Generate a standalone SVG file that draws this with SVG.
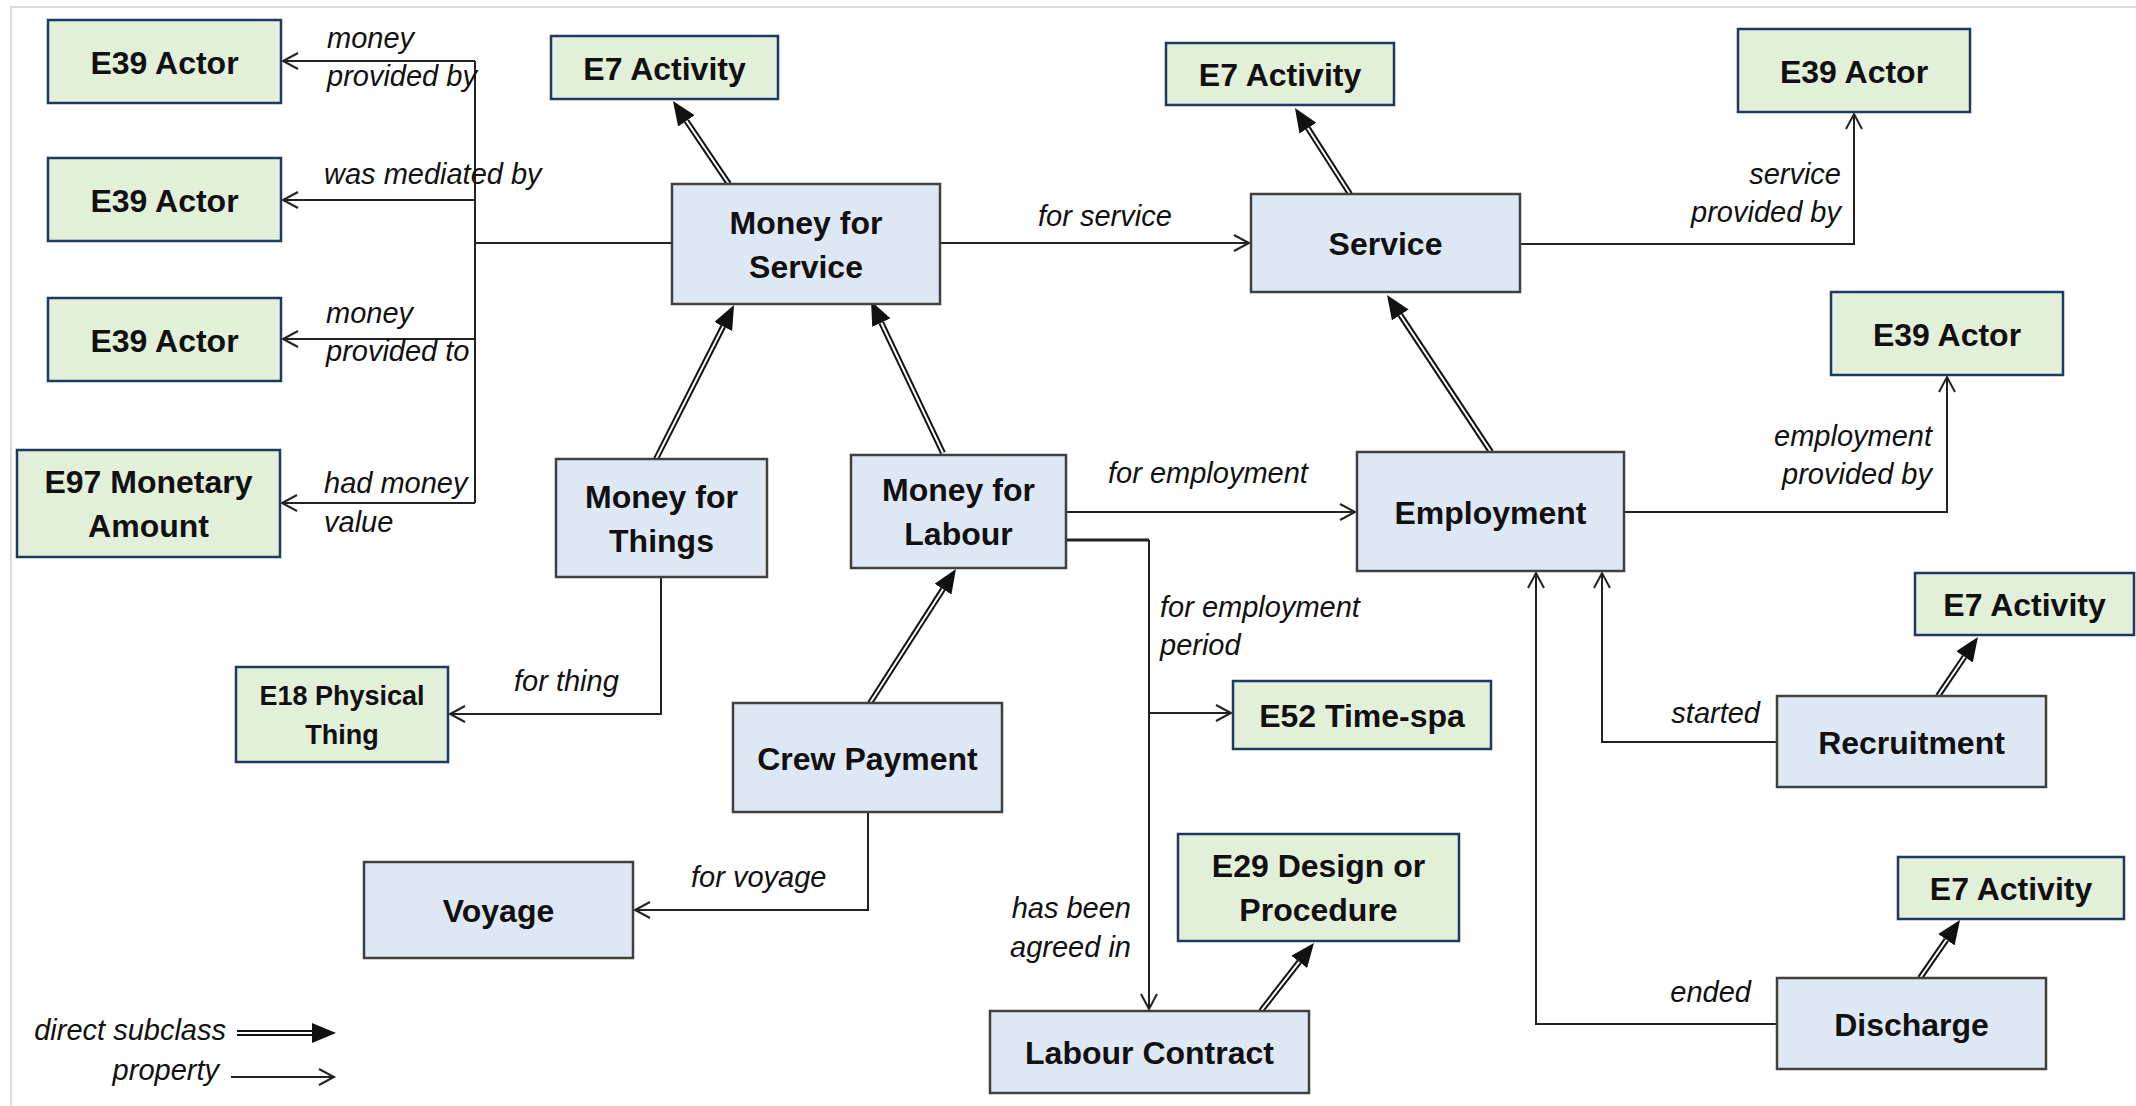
<svg xmlns="http://www.w3.org/2000/svg" width="2136" height="1106" viewBox="0 0 2136 1106">
<style>
.blue{fill:#dee8f5;stroke:#404040;stroke-width:2.5}
.green{fill:#e2efd9;stroke:#1f3864;stroke-width:2.5}
.nt{font-family:"Liberation Sans",Arial,sans-serif;font-weight:bold;font-size:32px;fill:#111;text-anchor:middle}
.nts{font-size:27px}
.lb{font-family:"Liberation Sans",Arial,sans-serif;font-style:italic;font-size:29px;fill:#111}
.r{text-anchor:end}
.prop{fill:none;stroke:#222;stroke-width:2}
.sub{fill:none;stroke:#111;stroke-width:6}
.subw{fill:none;stroke:#fff;stroke-width:2}
</style>
<defs>
<marker id="tri" viewBox="0 0 24 20" refX="0" refY="10" markerWidth="24" markerHeight="20" markerUnits="userSpaceOnUse" orient="auto">
<path d="M0,0 L24,10 L0,20 z" fill="#111"/>
</marker>
<marker id="open" viewBox="-2 -2 20 20" refX="15" refY="8" markerWidth="20" markerHeight="20" markerUnits="userSpaceOnUse" orient="auto" overflow="visible">
<path d="M0,0 L15,8 L0,16" fill="none" stroke="#222" stroke-width="2"/>
</marker>
</defs>
<rect width="2136" height="1106" fill="#fff"/>
<path d="M11,1106 V7 H2136" fill="none" stroke="#dcdcdc" stroke-width="2"/>

<g id="connectors">
<!-- property connectors -->
<path class="prop" d="M671,243 H475"/>
<path class="prop" d="M475,61 V503"/>
<path class="prop" d="M475,61 H283" marker-end="url(#open)"/>
<path class="prop" d="M475,200 H283" marker-end="url(#open)"/>
<path class="prop" d="M475,339 H283" marker-end="url(#open)"/>
<path class="prop" d="M475,503 H282" marker-end="url(#open)"/>
<path class="prop" d="M940,243 H1249" marker-end="url(#open)"/>
<path class="prop" d="M1520,244 H1854 V114" marker-end="url(#open)"/>
<path class="prop" d="M1624,512 H1947 V377" marker-end="url(#open)"/>
<path class="prop" d="M1066,512 H1355" marker-end="url(#open)"/>
<path class="prop" d="M1066,540 H1149" style="stroke-width:3"/>
<path class="prop" d="M1149,540 V1009" marker-end="url(#open)"/>
<path class="prop" d="M1149,713 H1231" marker-end="url(#open)"/>
<path class="prop" d="M661,577 V714 H450" marker-end="url(#open)"/>
<path class="prop" d="M868,812 V910 H635" marker-end="url(#open)"/>
<path class="prop" d="M1777,742 H1602 V573" marker-end="url(#open)"/>
<path class="prop" d="M1777,1024 H1536 V573" marker-end="url(#open)"/>
<!-- subclass connectors -->
<path class="sub" d="M729,184 L686.4,120.9" marker-end="url(#tri)"/><path class="subw" d="M729,184 L686.4,120.9"/>
<path class="sub" d="M1350,194 L1307.9,128.2" marker-end="url(#tri)"/><path class="subw" d="M1350,194 L1307.9,128.2"/>
<path class="sub" d="M656,459 L723.2,326.4" marker-end="url(#tri)"/><path class="subw" d="M656,459 L723.2,326.4"/>
<path class="sub" d="M943,453 L881.3,322.7" marker-end="url(#tri)"/><path class="subw" d="M943,453 L881.3,322.7"/>
<path class="sub" d="M1491,452 L1400.3,315" marker-end="url(#tri)"/><path class="subw" d="M1491,452 L1400.3,315"/>
<path class="sub" d="M870,703 L943,589.2" marker-end="url(#tri)"/><path class="subw" d="M870,703 L943,589.2"/>
<path class="sub" d="M1261,1011 L1299.2,961.9" marker-end="url(#tri)"/><path class="subw" d="M1261,1011 L1299.2,961.9"/>
<path class="sub" d="M1938,696 L1964.5,656.9" marker-end="url(#tri)"/><path class="subw" d="M1938,696 L1964.5,656.9"/>
<path class="sub" d="M1920,978 L1946.4,939.7" marker-end="url(#tri)"/><path class="subw" d="M1920,978 L1946.4,939.7"/>
<!-- labels -->
<text class="lb" x="327" y="48">money</text>
<text class="lb" x="327" y="86">provided by</text>
<text class="lb" x="324" y="184">was mediated by</text>
<text class="lb" x="326" y="323">money</text>
<text class="lb" x="326" y="361">provided to</text>
<text class="lb" x="324" y="493">had money</text>
<text class="lb" x="324" y="532">value</text>
<text class="lb" x="1038" y="226">for service</text>
<text class="lb r" x="1841" y="184">service</text>
<text class="lb r" x="1841" y="222">provided by</text>
<text class="lb r" x="1932" y="446">employment</text>
<text class="lb r" x="1932" y="484">provided by</text>
<text class="lb" x="1108" y="483">for employment</text>
<text class="lb" x="1160" y="617">for employment</text>
<text class="lb" x="1160" y="655">period</text>
<text class="lb r" x="1131" y="918">has been</text>
<text class="lb r" x="1131" y="957">agreed in</text>
<text class="lb" x="514" y="691">for thing</text>
<text class="lb" x="691" y="887">for voyage</text>
<text class="lb r" x="1760" y="723">started</text>
<text class="lb r" x="1751" y="1002">ended</text>
</g>

<g id="legend">
<text class="lb r" x="226" y="1040">direct subclass</text>
<text class="lb r" x="219" y="1080">property</text>
<path class="sub" d="M237,1033 H312" marker-end="url(#tri)"/><path class="subw" d="M237,1033 H312"/>
<path class="prop" d="M231,1077 H334" marker-end="url(#open)"/>
</g>

<g id="n-e39-a1"><rect class="green" x="48" y="20" width="233" height="83"/><text class="nt" x="164.5" y="73.5">E39 Actor</text></g>
<g id="n-e39-a2"><rect class="green" x="48" y="158" width="233" height="83"/><text class="nt" x="164.5" y="211.5">E39 Actor</text></g>
<g id="n-e39-a3"><rect class="green" x="48" y="298" width="233" height="83"/><text class="nt" x="164.5" y="351.5">E39 Actor</text></g>
<g id="n-e97"><rect class="green" x="17" y="450" width="263" height="107"/><text class="nt" x="148.5" y="493">E97 Monetary</text><text class="nt" x="148.5" y="537">Amount</text></g>
<g id="n-e7-a1"><rect class="green" x="551" y="36" width="227" height="63"/><text class="nt" x="664.5" y="79.5">E7 Activity</text></g>
<g id="n-mfs"><rect class="blue" x="672" y="184" width="268" height="120"/><text class="nt" x="806" y="233.5">Money for</text><text class="nt" x="806" y="277.5">Service</text></g>
<g id="n-e7-a2"><rect class="green" x="1166" y="43" width="228" height="62"/><text class="nt" x="1280" y="86">E7 Activity</text></g>
<g id="n-service"><rect class="blue" x="1251" y="194" width="269" height="98"/><text class="nt" x="1385.5" y="255">Service</text></g>
<g id="n-e39-a4"><rect class="green" x="1738" y="29" width="232" height="83"/><text class="nt" x="1854" y="82.5">E39 Actor</text></g>
<g id="n-e39-a5"><rect class="green" x="1831" y="292" width="232" height="83"/><text class="nt" x="1947" y="345.5">E39 Actor</text></g>
<g id="n-employment"><rect class="blue" x="1357" y="452" width="267" height="119"/><text class="nt" x="1490.5" y="523.5">Employment</text></g>
<g id="n-mft"><rect class="blue" x="556" y="459" width="211" height="118"/><text class="nt" x="661.5" y="507.5">Money for</text><text class="nt" x="661.5" y="551.5">Things</text></g>
<g id="n-mfl"><rect class="blue" x="851" y="455" width="215" height="113"/><text class="nt" x="958.5" y="501">Money for</text><text class="nt" x="958.5" y="545">Labour</text></g>
<g id="n-e18"><rect class="green" x="236" y="667" width="212" height="95"/><text class="nt nts" x="342" y="705">E18 Physical</text><text class="nt nts" x="342" y="744">Thing</text></g>
<g id="n-crew"><rect class="blue" x="733" y="703" width="269" height="109"/><text class="nt" x="867.5" y="769.5">Crew Payment</text></g>
<g id="n-voyage"><rect class="blue" x="364" y="862" width="269" height="96"/><text class="nt" x="498.5" y="922">Voyage</text></g>
<g id="n-e52"><rect class="green" x="1233" y="681" width="258" height="68"/><text class="nt" x="1362" y="727">E52 Time-spa</text></g>
<g id="n-e29"><rect class="green" x="1178" y="834" width="281" height="107"/><text class="nt" x="1318.5" y="877">E29 Design or</text><text class="nt" x="1318.5" y="921">Procedure</text></g>
<g id="n-labour-contract"><rect class="blue" x="990" y="1011" width="319" height="82"/><text class="nt" x="1149.5" y="1064">Labour Contract</text></g>
<g id="n-e7-a3"><rect class="green" x="1915" y="573" width="219" height="62"/><text class="nt" x="2024.5" y="616">E7 Activity</text></g>
<g id="n-recruitment"><rect class="blue" x="1777" y="696" width="269" height="91"/><text class="nt" x="1911.5" y="753.5">Recruitment</text></g>
<g id="n-e7-a4"><rect class="green" x="1898" y="857" width="226" height="62"/><text class="nt" x="2011" y="900">E7 Activity</text></g>
<g id="n-discharge"><rect class="blue" x="1777" y="978" width="269" height="91"/><text class="nt" x="1911.5" y="1035.5">Discharge</text></g>
</svg>
